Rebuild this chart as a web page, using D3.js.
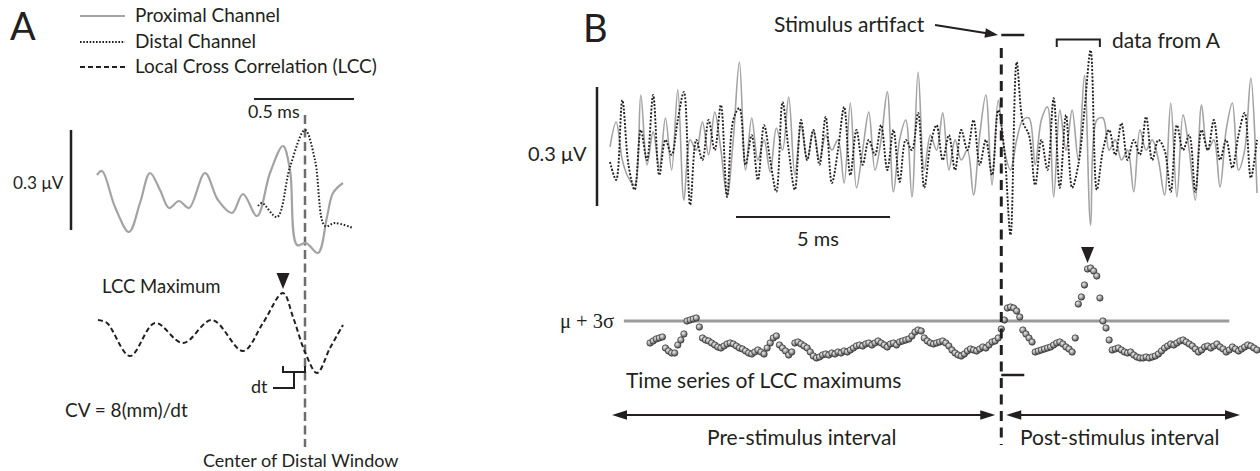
<!DOCTYPE html>
<html><head><meta charset="utf-8">
<script src="https://cdn.jsdelivr.net/npm/d3@7"></script>
<style>
html,body{margin:0;padding:0;background:#fff;}
svg text{font-family:Lato,"Open Sans",sans-serif;fill:#231f20;}
</style></head>
<body><svg id="fig" width="1260" height="471"></svg>
<script>
// ---------- DATA ----------
// Panel A: proximal channel (time ms, μV)
const proxA_t = [0.000,0.025,0.090,0.160,0.215,0.265,0.315,0.360,0.410,0.460,0.540,0.605,0.675,0.730,0.800,0.865,0.930,0.965,1.000,1.045,1.105,1.150,1.180,1.230];
const proxA_v = [0.015,0.027,-0.081,-0.156,-0.069,0.021,-0.030,-0.084,-0.063,-0.084,0.021,-0.060,-0.099,-0.042,-0.108,0.021,0.102,0.030,-0.195,-0.189,-0.219,-0.111,-0.039,-0.009];
// Panel A: distal channel
const distA_t = [0.805,0.825,0.900,0.965,1.040,1.090,1.140,1.190,1.280];
const distA_v = [-0.078,-0.069,-0.111,0.039,0.150,0.060,-0.138,-0.129,-0.144];
// Panel A: local cross correlation
const lccA_t = [0.005,0.050,0.165,0.290,0.430,0.575,0.730,0.830,0.930,0.980,1.040,1.100,1.165,1.230];
const lccA_v = [0.20,0.17,-0.16,0.17,-0.03,0.20,-0.11,0.17,0.47,0.23,-0.12,-0.33,-0.08,0.15];
const lccMaxA = 0.93;        // ms
const distalCenterA = 1.04;  // ms

// Panel B: traces sampled every 0.2 ms from 0 ms (μV)
const stepB = 0.2;
const proxB = [-0.005,0.058,-0.038,-0.083,-0.101,0.126,-0.050,0.033,-0.058,0.068,
 -0.063,0.139,-0.139,0.013,-0.013,0.058,-0.025,0.083,-0.013,-0.128,
 0.013,0.209,-0.063,0.068,-0.038,0.013,-0.068,0.043,-0.013,0.121,
 -0.076,0.050,-0.038,0.038,-0.038,0.025,-0.013,0.013,-0.096,0.106,
 -0.108,-0.013,0.083,-0.063,0.013,0.134,-0.118,0.013,0.063,-0.131,
 0.184,-0.063,0.025,-0.013,0.081,-0.063,0.013,-0.038,-0.013,-0.126,
 0.025,0.126,-0.101,0.113,-0.013,-0.063,0.013,0.063,0.068,-0.050,
 0.063,0.096,-0.131,0.088,-0.013,0.088,-0.038,0.176,-0.202,0.063,
 0.068,-0.013,0.013,-0.038,-0.013,-0.118,0.038,-0.013,0.013,-0.038,
 -0.126,0.106,-0.131,0.076,-0.013,-0.139,0.101,-0.013,0.013,-0.106,
 0.038,0.106,-0.063,-0.013,0.169,-0.121];
const distB = [-0.043,-0.088,0.113,-0.050,-0.113,0.038,-0.038,0.126,-0.076,0.013,
 -0.025,0.063,0.134,-0.151,0.013,-0.038,0.063,-0.013,0.101,-0.131,
 0.063,0.093,-0.050,0.025,-0.088,0.050,-0.038,-0.118,0.108,-0.013,
 -0.113,0.063,-0.038,0.038,-0.050,0.071,-0.096,-0.013,0.096,-0.076,
 0.038,-0.050,0.013,-0.025,0.050,-0.063,0.038,-0.093,0.013,-0.013,
 0.081,-0.108,0.000,0.050,-0.038,0.025,-0.063,0.038,-0.013,0.063,
 -0.050,0.013,-0.076,0.088,-0.013,-0.227,0.209,0.058,0.025,-0.101,
 0.013,-0.063,0.118,-0.108,0.076,-0.108,-0.050,0.088,0.239,-0.113,
 -0.013,0.038,-0.025,0.055,-0.038,0.013,-0.025,0.071,-0.038,0.013,
 -0.013,-0.118,0.050,-0.013,0.025,-0.118,0.038,-0.013,0.063,-0.038,
 0.013,-0.058,0.025,0.081,-0.083,0.013];
// Panel B: LCC maximum time series, every 0.1 ms from 1.3 ms
const lccStart = 1.3, lccStep = 0.1;
const lccB = [0.135,0.145,0.155,0.160,0.165,0.110,0.095,0.085,0.085,0.125,
 0.150,0.180,0.245,0.250,0.255,0.260,0.215,0.160,0.150,0.145,
 0.135,0.125,0.115,0.110,0.120,0.130,0.135,0.130,0.120,0.110,
 0.105,0.095,0.085,0.080,0.090,0.100,0.090,0.080,0.110,0.135,
 0.160,0.170,0.125,0.110,0.095,0.075,0.090,0.135,0.140,0.130,
 0.120,0.110,0.090,0.070,0.060,0.065,0.075,0.080,0.075,0.085,
 0.080,0.090,0.085,0.095,0.090,0.100,0.110,0.120,0.125,0.120,
 0.130,0.135,0.125,0.135,0.145,0.135,0.125,0.115,0.130,0.135,
 0.125,0.140,0.145,0.150,0.155,0.170,0.190,0.200,0.195,0.160,
 0.145,0.135,0.130,0.135,0.140,0.145,0.135,0.120,0.100,0.085,
 0.075,0.070,0.080,0.095,0.105,0.100,0.095,0.105,0.115,0.110,
 0.125,0.140,0.145,0.160,0.205,0.250,0.310,0.315,0.310,0.295,
 0.265,0.200,0.180,0.160,0.140,0.090,0.095,0.100,0.105,0.110,
 0.115,0.125,0.135,0.140,0.130,0.115,0.105,0.090,0.160,0.330,
 0.365,0.425,0.505,0.510,0.495,0.470,0.360,0.245,0.210,0.150,
 0.100,0.105,0.110,0.100,0.090,0.085,0.090,0.075,0.065,0.060,
 0.060,0.065,0.060,0.065,0.070,0.080,0.095,0.110,0.120,0.130,
 0.125,0.135,0.145,0.150,0.140,0.130,0.120,0.105,0.090,0.100,
 0.115,0.120,0.110,0.120,0.130,0.115,0.105,0.090,0.100,0.115,
 0.105,0.095,0.105,0.115,0.125,0.120,0.110,0.100];
const threshold = 0.245;           // μ + 3σ
const thresholdSpan = [0.45, 20.1];// ms
const stimulusTime = 12.7;         // ms
const dataFromA = [14.5, 15.9];    // ms
const lccMaxB = 15.5;              // ms

const legendLabels = ["Proximal Channel","Distal Channel","Local Cross Correlation (LCC)"];

// ---------- DRAW ----------
const svg = d3.select("#fig");
const ink = "#231f20", grayC = "#a3a3a3";
const defs = svg.append("defs");
const rg = defs.append("radialGradient").attr("id","sph").attr("cx","38%").attr("cy","35%").attr("r","65%");
rg.append("stop").attr("offset","0%").attr("stop-color","#f0f0f0");
rg.append("stop").attr("offset","55%").attr("stop-color","#9c9c9c");
rg.append("stop").attr("offset","100%").attr("stop-color","#505050");

function txt(x,y,s,size,opts={}){
  const t = svg.append("text").attr("x",x).attr("y",y).attr("font-size",size).text(s);
  if(opts.family) t.style("font-family",opts.family);
  if(opts.anchor) t.attr("text-anchor",opts.anchor);
  return t;
}
function seg(x1,y1,x2,y2,w,c,dash){
  const l = svg.append("line").attr("x1",x1).attr("y1",y1).attr("x2",x2).attr("y2",y2)
    .attr("stroke",c||ink).attr("stroke-width",w||2);
  if(dash) l.attr("stroke-dasharray",dash);
  return l;
}
function head(x,y,dir,len,hw){ // dir: pointing angle (radians)
  const c=Math.cos(dir), s=Math.sin(dir);
  const bx=x-c*len, by=y-s*len;
  svg.append("path").attr("d",`M${x},${y}L${bx - s*hw},${by + c*hw}L${bx + s*hw},${by - c*hw}Z`).attr("fill",ink);
}

// ===== Panel A =====
const xA = d3.scaleLinear().domain([0,0.5]).range([97,197]);
const yA = d3.scaleLinear().domain([0,0.3]).range([180,80]);
const yLA = d3.scaleLinear().domain([0,1]).range([340,240]);
const curve = d3.curveCatmullRom.alpha(0.5);

txt(10,40,"A",38);
// legend
const legY = [16,42,67];
seg(80,legY[0],125,legY[0],2,grayC);
seg(80,legY[1],125,legY[1],2,ink,"1.6,1.6");
seg(80,legY[2],125,legY[2],2,ink,"5,3");
legendLabels.forEach((s,i)=>txt(135,legY[i]+6,s,19));

// 0.5 ms bar
seg(254,99,254+xA(0.5)-xA(0),99,2);
txt(248,118,"0.5 ms",17.8);
// 0.3 μV bar
seg(71,130,71,130+yA(0)-yA(0.3),2.5);
txt(13,189,"0.3 \u03bcV",17.2);

// center of distal window line
seg(xA(distalCenterA),115,xA(distalCenterA),447,2.5,"#6d6d6d","9,4.5");

const lineA = d3.line().curve(curve);
svg.append("path").attr("d",lineA(proxA_t.map((t,i)=>[xA(t),yA(proxA_v[i])])))
  .attr("fill","none").attr("stroke",grayC).attr("stroke-width",2.2);
svg.append("path").attr("d",lineA(distA_t.map((t,i)=>[xA(t),yA(distA_v[i])])))
  .attr("fill","none").attr("stroke",ink).attr("stroke-width",2).attr("stroke-dasharray","1.6,1.8");
svg.append("path").attr("d",lineA(lccA_t.map((t,i)=>[xA(t),yLA(lccA_v[i])])))
  .attr("fill","none").attr("stroke",ink).attr("stroke-width",2).attr("stroke-dasharray","5,3");

txt(102,293,"LCC Maximum",18.5);
head(xA(lccMaxA),289,Math.PI/2,16,6.5);

// dt bracket
const bx1 = xA(lccMaxA), bx2 = xA(distalCenterA), bm=(bx1+bx2)/2;
svg.append("path").attr("d",`M${bx1},366V372H${bx2}V366M${bm},372V388H${bm-21}`)
  .attr("fill","none").attr("stroke",ink).attr("stroke-width",2);
txt(251,393,"dt",18);
txt(65,417,"CV = 8(mm)/dt",19);
txt(203,467,"Center of Distal Window",18);

// ===== Panel B =====
const xB = d3.scaleLinear().domain([0,21]).range([610,1257]);
const yB = d3.scaleLinear().domain([0,0.3]).range([145,26]);
const yL = d3.scaleLinear().domain([0,0.5]).range([370,270]);

txt(583,42,"B",38);
txt(774,32,"Stimulus artifact",21);
seg(935,25,990,33.8,2);
head(998,35,Math.atan2(10,63),13,4.8);
seg(xB(stimulusTime),35,xB(stimulusTime)+23,35,2.5);
seg(xB(stimulusTime),375,xB(stimulusTime)+23,375,2.5);
// data from A bracket
svg.append("path").attr("d",`M${xB(dataFromA[0])},47V39.5H${xB(dataFromA[1])}V47`)
  .attr("fill","none").attr("stroke",ink).attr("stroke-width",2);
txt(1112,48,"data from A",21);

// scale bars
seg(597,87,597,87+yB(0)-yB(0.3),2.5);
txt(528,161,"0.3 \u03bcV",20);
seg(736,217,736+xB(5)-xB(0),217,2);
txt(797,246,"5 ms",20);

const lineB = d3.line().curve(curve);
svg.append("path").attr("d",lineB(proxB.map((v,i)=>[xB(i*stepB),yB(v)])))
  .attr("fill","none").attr("stroke",grayC).attr("stroke-width",1.6);
svg.append("path").attr("d",lineB(distB.map((v,i)=>[xB(i*stepB),yB(v)])))
  .attr("fill","none").attr("stroke",ink).attr("stroke-width",1.9).attr("stroke-dasharray","2,1.6");

// threshold line
txt(560,328,"\u03bc + 3\u03c3",20.5,{family:"'Liberation Serif','DejaVu Serif',serif"});
seg(xB(thresholdSpan[0]),yL(threshold),xB(thresholdSpan[1]),yL(threshold),3,"#9a9a9a");

// LCC dots
svg.append("g").selectAll("circle").data(lccB).join("circle")
  .attr("cx",(v,i)=>xB(lccStart+i*lccStep)).attr("cy",v=>yL(v)).attr("r",3.2)
  .attr("fill","url(#sph)").attr("stroke","#333").attr("stroke-width",0.7);
head(xB(lccMaxB),263,Math.PI/2,16,6.5);

// stimulus dashed line
seg(xB(stimulusTime),48,xB(stimulusTime),445,3,ink,"10,6.5");

txt(626,388,"Time series of LCC maximums",21);
// interval arrows
const ay=415, sx=xB(stimulusTime);
seg(620,ay,sx-12,ay,2); head(612,ay,Math.PI,15,4.8); head(sx-6,ay,0,15,4.8);
seg(sx+12,ay,1232,ay,2); head(sx+5,ay,Math.PI,15,4.8); head(1240,ay,0,15,4.8);
txt(707,445,"Pre-stimulus interval",21);
txt(1020,445,"Post-stimulus interval",21);
</script></body></html>
